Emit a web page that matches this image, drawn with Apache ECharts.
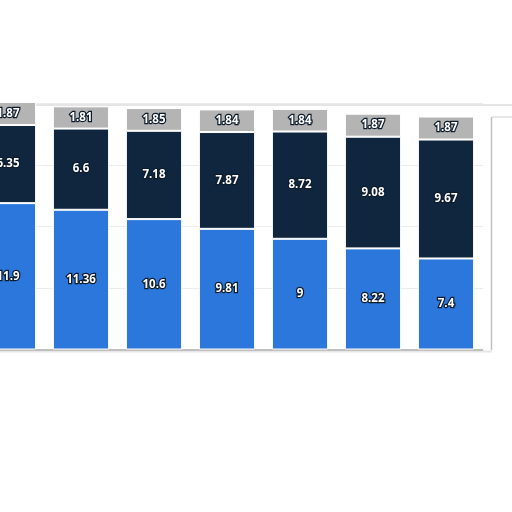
<!DOCTYPE html>
<html>
<head>
<meta charset="utf-8">
<style>html,body{margin:0;padding:0;background:#fff;}#c{width:512px;height:512px;}</style>
<script src="https://cdn.jsdelivr.net/npm/echarts@6/dist/echarts.min.js"></script>
</head>
<body>
<div id="c"></div>
<script>
var categories = ['A', 'B', 'C', 'D', 'E', 'F', 'G'];
var seriesBottom = [11.9, 11.36, 10.6, 9.81, 9, 8.22, 7.4];
var seriesMiddle = [6.35, 6.6, 7.18, 7.87, 8.72, 9.08, 9.67];
var seriesTop = [1.87, 1.81, 1.85, 1.84, 1.84, 1.87, 1.87];

var chart = echarts.init(document.getElementById('c'));
var lbl = {
  show: true, position: 'inside', color: '#fff', fontWeight: 'bold',
  fontFamily: 'Open Sans', fontSize: 11.5,
  textBorderColor: '#0e1c2c', textBorderWidth: 2.5
};
function mk(name, data, color) {
  return {
    name: name, type: 'bar', stack: 's', data: data, barCategoryGap: '23%',
    clip: false,
    itemStyle: { color: color, borderColor: '#ffffff', borderWidth: 1 },
    label: lbl
  };
}
chart.setOption({
  animation: false,
  backgroundColor: '#ffffff',
  grid: { left: -28.5, top: 103.5, width: 511, height: 246, outerBoundsMode: 'none', containLabel: false },
  xAxis: {
    type: 'category', data: categories,
    axisLine: { show: true, lineStyle: { color: '#b0b0b0', width: 1.5 } },
    axisTick: { show: false }, axisLabel: { show: false }
  },
  yAxis: {
    type: 'value', min: 0, max: 20, interval: 5,
    axisLabel: { show: false }, axisLine: { show: false }, axisTick: { show: false },
    splitLine: { show: true, lineStyle: { color: '#d8d8d8', type: 'dotted' } }
  },
  series: [
    mk('bottom', seriesBottom, '#2b77db'),
    mk('middle', seriesMiddle, '#10263f'),
    mk('top', seriesTop, '#b4b4b4')
  ],
  graphic: [
    { type: 'line', shape: { x1: 0, y1: 105, x2: 512, y2: 105 }, style: { stroke: '#dcdcdc', lineWidth: 1.5 }, z: -1 },
    { type: 'line', shape: { x1: 491.5, y1: 117, x2: 491.5, y2: 350 }, style: { stroke: '#c0c0c0', lineWidth: 1.5 } },
    { type: 'line', shape: { x1: 491.5, y1: 117, x2: 512, y2: 117 }, style: { stroke: '#d0d0d0', lineWidth: 1 } },
    { type: 'line', shape: { x1: 0, y1: 351.5, x2: 492, y2: 351.5 }, style: { stroke: '#e6e6e6', lineWidth: 2 } }
  ]
});
</script>
</body>
</html>
